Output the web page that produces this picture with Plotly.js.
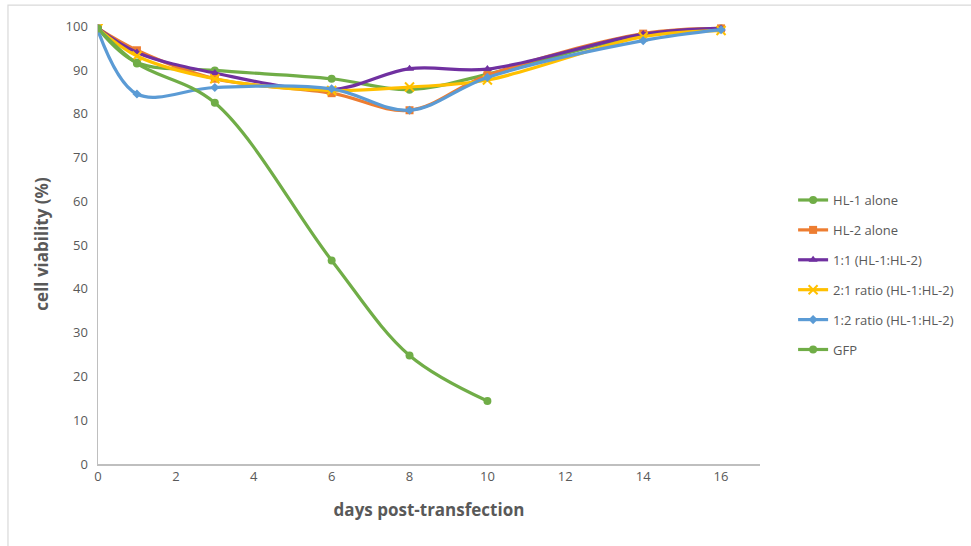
<!DOCTYPE html>
<html>
<head>
<meta charset="utf-8">
<script src="https://cdn.plot.ly/plotly-3.0.1.min.js"></script>
<style>
html,body{margin:0;padding:0;background:#fff;}
#chart{width:971px;height:546px;}
</style>
</head>
<body>
<div id="chart"></div>
<script>
// Data
const days = [0, 1, 3, 6, 8, 10, 14, 16];
const daysGFP = [0, 1, 3, 6, 8, 10];
const hl1Alone = [99.5, 91.7, 89.9, 88.0, 85.5, 89.0, 98.0, 99.5];
const hl2Alone = [99.5, 94.5, 88.0, 84.7, 80.8, 88.8, 98.3, 99.5];
const ratio11 = [99.5, 94.0, 89.3, 85.5, 90.3, 90.2, 98.2, 99.5];
const ratio21 = [99.5, 93.2, 88.0, 85.3, 86.1, 87.7, 97.6, 99.0];
const ratio12 = [99.0, 84.5, 86.0, 85.7, 80.8, 88.3, 96.7, 99.2];
const gfp = [99.5, 91.5, 82.5, 46.5, 24.8, 14.4];
const seriesNames = ["HL-1 alone", "HL-2 alone", "1:1 (HL-1:HL-2)", "2:1 ratio (HL-1:HL-2)", "1:2 ratio (HL-1:HL-2)", "GFP"];
const xTicks = [0, 2, 4, 6, 8, 10, 12, 14, 16];
const yTicks = [0, 10, 20, 30, 40, 50, 60, 70, 80, 90, 100];

const colors = ["#70AD47", "#ED7D31", "#7030A0", "#FFC000", "#5B9BD5", "#70AD47"];
const symbols = ["circle", "square", "triangle-up", "x-thin", "diamond", "circle"];
const sizes = [8, 8, 8, 9, 7, 8];
const xs = [days, days, days, days, days, daysGFP];
const ys = [hl1Alone, hl2Alone, ratio11, ratio21, ratio12, gfp];

const traces = seriesNames.map((n, i) => ({
  x: xs[i], y: ys[i], name: n, type: "scatter", mode: "lines+markers",
  legendgroup: "g" + i,
  line: {color: colors[i], width: 3.2, shape: "spline", smoothing: 1},
  marker: {color: colors[i], symbol: symbols[i], size: sizes[i],
           line: {color: colors[i], width: symbols[i] === "x-thin" ? 2 : 0}}
}));

const font = "'Open Sans', Lato, sans-serif";
const layout = {
  width: 971, height: 546,
  margin: {l: 98, r: 211, t: 24, b: 82},
  paper_bgcolor: "#fff", plot_bgcolor: "#fff",
  font: {family: font, color: "#595959", size: 13},
  showlegend: true,
  legend: {x: 1.05, y: 0.634, xanchor: "left", yanchor: "top",
           font: {family: font, size: 13, color: "#595959"},
           tracegroupgap: 10, bgcolor: "rgba(0,0,0,0)"},
  xaxis: {range: [0, 17], tickvals: xTicks, ticktext: xTicks.map(String),
          showgrid: false, zeroline: false, showline: true, linecolor: "#BFBFBF", linewidth: 1.5,
          ticks: "", tickfont: {size: 13, color: "#595959"},
          title: {text: "days post-transfection", font: {size: 17, color: "#595959", family: font, weight: "bold"}, standoff: 20}},
  yaxis: {range: [0, 100.5], tickvals: yTicks, ticktext: yTicks.map(String),
          showgrid: false, zeroline: false, showline: true, linecolor: "#BFBFBF", linewidth: 1.5,
          ticks: "", tickfont: {size: 13, color: "#595959"}, ticklabelstandoff: 6,
          title: {text: "cell viability (%)", font: {size: 17, color: "#595959", family: font, weight: "bold"}, standoff: 12}},
  shapes: [{type: "rect", xref: "paper", yref: "paper", x0: -0.136, x1: 1.4, y0: -0.3, y1: 1.043,
            line: {color: "#D9D9D9", width: 1.2}, fillcolor: "rgba(0,0,0,0)", layer: "below"}]
};

Plotly.newPlot("chart", traces, layout, {displayModeBar: false, staticPlot: true});
</script>
</body>
</html>
